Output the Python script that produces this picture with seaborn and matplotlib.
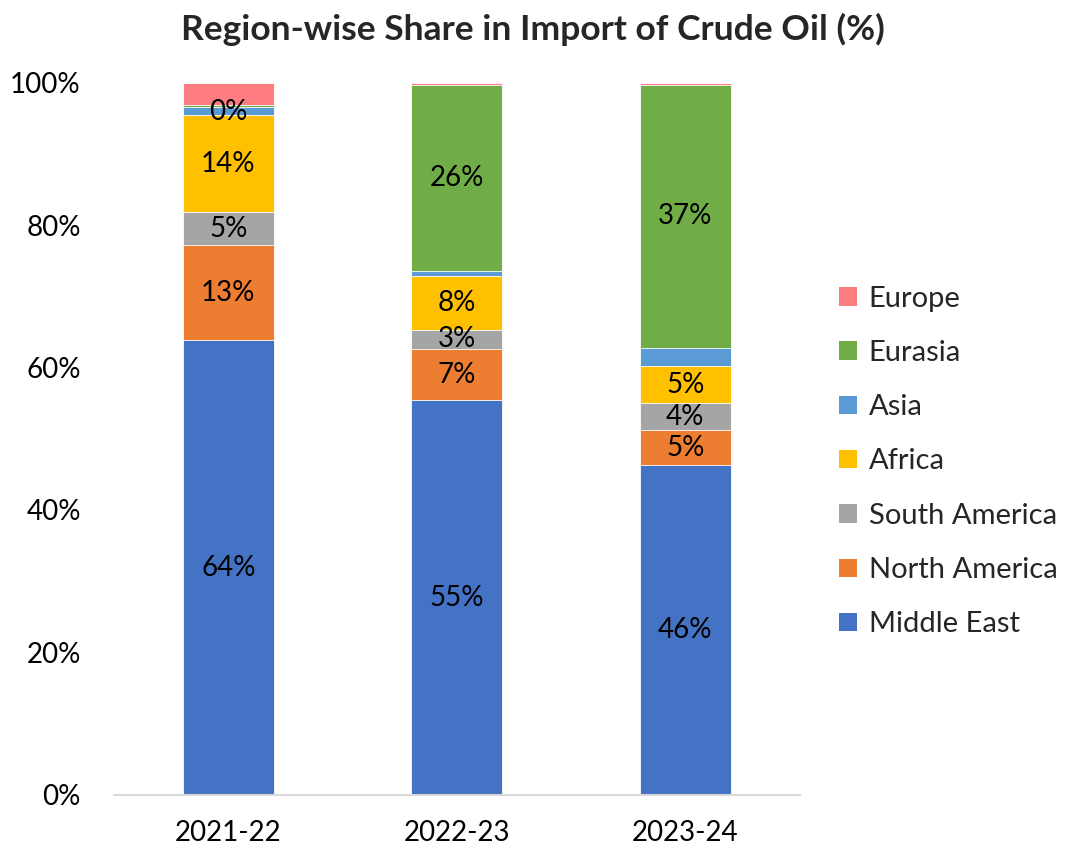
import numpy as np
import pandas as pd
import seaborn as sns
import matplotlib.pyplot as plt

years = ["2021-22", "2022-23", "2023-24"]
regions = ["Middle East", "North America", "South America", "Africa", "Asia", "Eurasia", "Europe"]
middle_east = [63.8, 55.4, 46.3]
north_america = [13.4, 7.2, 4.9]
south_america = [4.6, 2.7, 3.8]
africa = [13.6, 7.6, 5.2]
asia = [1.1, 0.6, 2.6]
eurasia = [0.3, 26.2, 36.8]
europe = [3.2, 0.3, 0.4]
labelled = ["Middle East", "North America", "South America", "Africa", "Eurasia"]

colors = {
    "Middle East": "#4472C4",
    "North America": "#ED7D31",
    "South America": "#A5A5A5",
    "Africa": "#FFC000",
    "Asia": "#5B9BD5",
    "Eurasia": "#70AD47",
    "Europe": "#FF7C80",
}


def main():
    sns.set_theme(style="white")
    plt.rcParams["font.family"] = ["Lato", "DejaVu Sans"]

    values = [middle_east, north_america, south_america, africa, asia, eurasia, europe]
    df = pd.DataFrame(dict(zip(regions, values)), index=years)
    cum = df.cumsum(axis=1)

    fig = plt.figure(figsize=(10.66, 8.51), dpi=100)
    ax = fig.add_axes([0.107, 0.066, 0.643, 0.837])

    # stacked bars: draw cumulative totals from the top series down
    for reg in regions[::-1]:
        d = pd.DataFrame({"year": years, "val": cum[reg].values})
        sns.barplot(data=d, x="year", y="val", color=colors[reg], width=0.4,
                    errorbar=None, label=reg, ax=ax, saturation=1,
                    edgecolor="white", linewidth=0.6)

    for reg in labelled:
        for i, yr in enumerate(years):
            v = df.loc[yr, reg]
            mid = cum.loc[yr, reg] - v / 2
            if v < 1:
                mid -= 0.8
            ax.text(i, mid, f"{v:.0f}%", ha="center", va="center",
                    fontsize=20, color="black")

    ax.set_ylim(0, 100)
    ax.set_xlim(-0.5, 2.5)
    ax.set_yticks(range(0, 101, 20))
    ax.set_yticklabels([f"{t}%" for t in range(0, 101, 20)])
    ax.tick_params(axis="both", labelsize=20, length=0, colors="black")
    ax.tick_params(axis="y", pad=24)
    ax.tick_params(axis="x", pad=18)
    ax.set_xlabel("")
    ax.set_ylabel("")
    for s in ["top", "right", "left"]:
        ax.spines[s].set_visible(False)
    ax.spines["bottom"].set_color("#D9D9D9")
    ax.spines["bottom"].set_linewidth(1.5)

    leg = ax.legend(loc="center left", bbox_to_anchor=(1.02, 0.468), frameon=False,
                    fontsize=21, handlelength=0.6, handleheight=0.6,
                    handletextpad=0.4, labelspacing=0.97)
    for h in leg.legend_handles:
        h.set_edgecolor("none")

    fig.suptitle("Region-wise Share in Import of Crude Oil (%)", x=0.5, y=0.985,
                 fontsize=25.5, fontweight="bold")

    plt.savefig("out.png", dpi=100)


main()
